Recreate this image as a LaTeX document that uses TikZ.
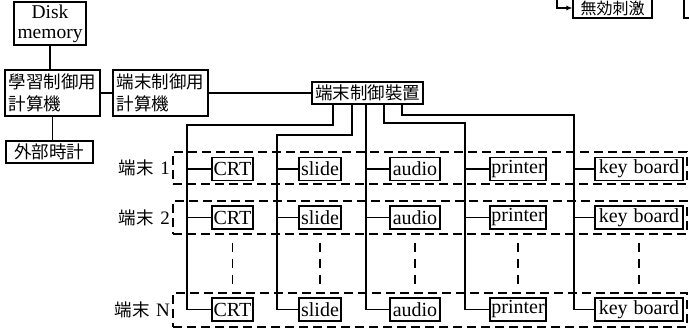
\documentclass[tikz,border=0pt]{standalone}
\usepackage{fontspec}
\setmainfont{Liberation Serif}
\newfontfamily\cjk{Noto Sans CJK JP}
\usetikzlibrary{arrows.meta}
\begin{document}
\begin{tikzpicture}[x=1pt,y=-1pt,
  box/.style={draw, line width=1.2pt, inner sep=2pt, align=center},
  dev/.style={box, inner sep=1pt, minimum height=23pt, font=\fontsize{20}{21}\selectfont},
  cj/.style={box, font=\fontsize{17.5}{22}\selectfont\cjk},
  wire/.style={line width=1.1pt},
  grp/.style={draw, line width=1.2pt, dash pattern=on 9pt off 5pt, inner sep=0pt},
  vdots/.style={line width=1.2pt, dash pattern=on 9pt off 7pt},
  lbl/.style={anchor=east, inner sep=1pt, font=\fontsize{19}{20}\selectfont}]
\useasboundingbox (0,0) rectangle (689,330);
\clip (0,0) rectangle (689,330);

% upper blocks
\node[box, minimum width=72pt, minimum height=43pt, font=\fontsize{19.5}{20}\selectfont] (disk) at (50,23.5) {Disk\\memory};
\node[cj, minimum width=95pt, minimum height=46pt, align=left] (study) at (52.5,93) {學習制御用\\計算機};
\node[cj, minimum width=95pt, minimum height=46pt, align=left] (term) at (160.5,93) {端末制御用\\計算機};
\node[cj, minimum width=87pt, minimum height=22pt] (clock) at (49.5,152) {外部時計};
\node[cj, minimum width=111pt, minimum height=22pt] (ctl) at (367.5,93) {端末制御裝置};
\node[cj, minimum width=79pt, minimum height=20pt, font=\fontsize{16}{18}\selectfont\cjk] (stim) at (612.5,8) {無効刺激};

\draw[wire] (disk.south) -- (disk.south |- study.north);
\draw[wire] (study.south) -- (study.south |- clock.north);
\draw[wire] (study.east) -- (term.west);
\draw[wire] (term.east) -- (ctl.west);

\coordinate (in0) at (557,-5);
\draw[wire, -{Latex[length=6pt,width=5pt]}] (in0) |- (stim.west);
\draw[line width=1.3pt] (700,-5) -| (684,18) -- (700,18);

% terminal groups
\node[grp, minimum width=514pt, minimum height=32pt] (g1) at (430,168) {};
\node[grp, minimum width=514pt, minimum height=33pt] (g2) at (430,217.5) {};
\node[grp, minimum width=514pt, minimum height=34pt] (gN) at (430,310) {};
\node[lbl] (l1) at (171,168) {{\cjk\fontsize{17.5}{19}\selectfont 端末}\,\,1};
\node[lbl] (l2) at (171,217.5) {{\cjk\fontsize{17.5}{19}\selectfont 端末}\,\,2};
\node[lbl] (lN) at (171,310) {{\cjk\fontsize{17.5}{19}\selectfont 端末}\,\,N};

\foreach \r/\y in {1/169, 2/217.5, N/309.5} {
  \node[dev, minimum width=41pt] (crt\r) at (232.5,\y) {CRT};
  \node[dev, minimum width=42pt] (slide\r) at (320,\y) {slide};
  \node[dev, minimum width=50pt] (audio\r) at (415,\y) {audio};
  \node[dev, minimum width=56pt] (printer\r) at (518,\y) {printer};
  \node[dev, minimum width=88pt] (kb\r) at (639,\y) {key\hspace{0.3em}board};
}

% buses
\coordinate (t1) at (333,0);  \coordinate (b1) at (187,125);
\coordinate (t2) at (352,0);  \coordinate (b2) at (277,135);
\coordinate (t3) at (366,0);
\coordinate (t4) at (384,0);  \coordinate (b4) at (465,123);
\coordinate (t5) at (402,0);  \coordinate (b5) at (574,115);

\draw[wire] (t1 |- ctl.south) |- (b1) -- (b1 |- crtN) -- (crtN.west);
\draw[wire] (t2 |- ctl.south) |- (b2) -- (b2 |- slideN) -- (slideN.west);
\draw[wire] (t3 |- ctl.south) -- (t3 |- audioN) -- (audioN.west);
\draw[wire] (t4 |- ctl.south) |- (b4) -- (b4 |- printerN) -- (printerN.west);
\draw[wire] (t5 |- ctl.south) |- (b5) -- (b5 |- kbN) -- (kbN.west);

\foreach \r in {1,2} {
  \draw[wire] (b1 |- crt\r) -- (crt\r.west);
  \draw[wire] (b2 |- slide\r) -- (slide\r.west);
  \draw[wire] (t3 |- audio\r) -- (audio\r.west);
  \draw[wire] (b4 |- printer\r) -- (printer\r.west);
  \draw[wire] (b5 |- kb\r) -- (kb\r.west);
}

\foreach \dv in {crt,slide,audio,printer,kb} {
  \draw[vdots] ([yshift=-13pt]\dv2.south) -- ([yshift=13pt]\dv N.north);
}
\end{tikzpicture}
\end{document}
